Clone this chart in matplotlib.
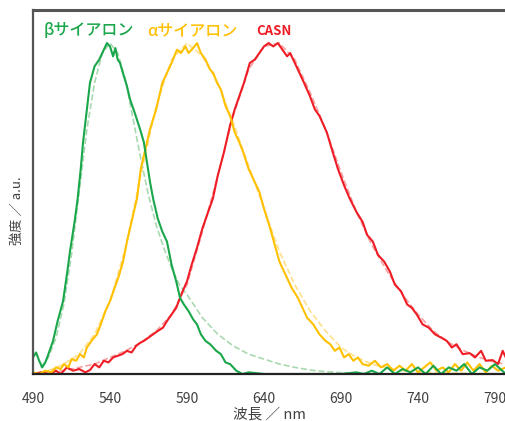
import matplotlib
matplotlib.use("Agg")
import matplotlib.pyplot as plt

plt.rcParams['font.family'] = ['Noto Sans CJK JP', 'DejaVu Sans']

# --- data (wavelength nm, normalised intensity) ---
beta_nm = [490, 492, 494, 496, 498, 500, 503, 506, 509.5, 512, 514, 517, 519, 521, 522.5,
           525, 527, 530, 533, 536, 538, 540, 542, 543.5, 545, 546.5, 549, 551, 553, 556,
           559.5, 562, 564, 566, 568, 571, 574, 577, 580, 583, 585.5, 588, 591, 594, 596.5,
           599, 602, 605, 609, 612, 615, 618, 622, 626, 630, 640, 650, 660, 670, 680, 690,
           700, 705, 710, 715, 720, 725, 730, 735, 740, 745, 750, 755, 760, 765, 770, 775,
           780, 785, 790, 797]
beta_int = [0.05, 0.065, 0.04, 0.02, 0.035, 0.06, 0.10, 0.16, 0.22, 0.30, 0.37, 0.46, 0.53,
            0.62, 0.70, 0.80, 0.88, 0.93, 0.95, 0.98, 1.0, 0.99, 0.96, 0.985, 0.95, 0.94, 0.90,
            0.87, 0.83, 0.79, 0.74, 0.70, 0.64, 0.58, 0.53, 0.47, 0.43, 0.40, 0.33, 0.28, 0.23,
            0.21, 0.19, 0.165, 0.15, 0.12, 0.10, 0.09, 0.07, 0.06, 0.035, 0.03, 0.01, 0.0,
            0.005, 0.0, 0.0, 0.0, 0.0, 0.0, 0.0, 0.005, 0.0, 0.01, 0.0, 0.02, 0.0, 0.015,
            0.005, 0.02, 0.0, 0.025, 0.0, 0.02, 0.01, 0.03, 0.0, 0.02, 0.01, 0.03, 0.0]

beta_fit_nm = [495, 500, 505, 510, 515, 520, 525, 530, 535, 540, 545, 550, 555, 560, 565, 570,
               575, 580, 585, 590, 600, 610, 620, 630, 640, 650, 660, 670, 680, 690, 700, 720, 797]
beta_fit = [0.02, 0.05, 0.11, 0.21, 0.36, 0.55, 0.74, 0.88, 0.97, 1.0, 0.97, 0.89, 0.77, 0.65,
            0.54, 0.45, 0.38, 0.32, 0.27, 0.24, 0.17, 0.12, 0.085, 0.06, 0.045, 0.03, 0.02,
            0.012, 0.007, 0.004, 0.002, 0.0, 0.0]

alpha_nm = [490, 494, 498, 502, 505, 508, 510, 513, 515, 518, 520.5, 523, 525, 528, 531.5, 534,
            537, 540, 543, 546, 548.5, 551, 554, 557.5, 560, 563, 566, 570, 574, 577, 580,
            583.5, 586, 589, 591, 594, 596.5, 599, 602, 605, 607, 609.5, 612, 615, 618, 621,
            624, 626.5, 630, 634, 637, 640, 644, 647, 650, 654, 658, 662, 665, 668, 672, 676,
            680, 683, 686, 689, 692, 695, 698, 701, 704, 708, 712, 716, 720, 724, 728, 732,
            736, 740, 744, 748, 752, 756, 760, 764, 768, 772, 776, 780, 784, 788, 792, 797]
alpha_int = [0.005, 0.0, 0.01, 0.005, 0.02, 0.015, 0.03, 0.02, 0.045, 0.04, 0.06, 0.05, 0.08,
             0.10, 0.12, 0.15, 0.19, 0.22, 0.26, 0.30, 0.34, 0.40, 0.46, 0.53, 0.62, 0.68, 0.74,
             0.80, 0.88, 0.91, 0.94, 0.98, 0.97, 0.99, 0.97, 0.985, 1.0, 0.97, 0.95, 0.92, 0.91,
             0.88, 0.86, 0.81, 0.78, 0.73, 0.70, 0.67, 0.62, 0.58, 0.55, 0.50, 0.44, 0.39, 0.34,
             0.30, 0.26, 0.23, 0.20, 0.17, 0.15, 0.12, 0.10, 0.09, 0.07, 0.08, 0.05, 0.06, 0.04,
             0.05, 0.03, 0.025, 0.04, 0.02, 0.03, 0.01, 0.025, 0.01, 0.03, 0.005, 0.02, 0.035,
             0.01, 0.02, 0.005, 0.03, 0.01, 0.035, 0.01, 0.03, 0.005, 0.025, 0.01, 0.02]

alpha_fit_nm = [500, 510, 520, 530, 540, 550, 560, 570, 580, 590, 600, 610, 620, 630, 640, 650,
                660, 670, 680, 690, 700, 710, 720, 730, 750, 797]
alpha_fit = [0.01, 0.03, 0.06, 0.12, 0.22, 0.38, 0.60, 0.81, 0.95, 1.0, 0.96, 0.88, 0.76, 0.63,
             0.50, 0.37, 0.27, 0.19, 0.13, 0.08, 0.05, 0.03, 0.018, 0.01, 0.004, 0.0]

casn_nm = [490, 495, 500, 505, 508, 512, 516, 520, 524, 527, 530, 533, 536, 539, 542, 545, 548,
           551, 554, 557, 559.5, 562, 565, 568, 571, 574.4, 577, 580, 583, 586.7, 590, 593,
           596.4, 600, 603, 606.8, 610, 614, 617.9, 621, 624, 627, 630.8, 634, 637, 640, 643,
           646, 649, 652, 655, 657, 660, 663, 666, 669.8, 673, 676, 680.8, 684, 688, 692,
           695.7, 700, 704, 707, 710.7, 714, 718, 721.7, 725, 729, 733, 736, 739.2, 743, 747,
           751, 755, 758.7, 762, 765, 769, 773.6, 777, 781, 784, 788.5, 792, 795, 797]
casn_int = [0.0, 0.005, 0.0, 0.01, 0.0, 0.02, 0.01, 0.015, 0.005, 0.012, 0.03, 0.02, 0.04,
            0.035, 0.05, 0.055, 0.06, 0.07, 0.065, 0.085, 0.094, 0.10, 0.11, 0.12, 0.13, 0.14,
            0.16, 0.18, 0.20, 0.245, 0.28, 0.33, 0.38, 0.44, 0.48, 0.53, 0.60, 0.67, 0.75, 0.80,
            0.84, 0.88, 0.94, 0.95, 0.97, 0.99, 1.0, 0.99, 1.0, 0.98, 0.96, 0.97, 0.94, 0.91,
            0.88, 0.84, 0.80, 0.78, 0.73, 0.68, 0.62, 0.57, 0.53, 0.49, 0.46, 0.42, 0.40, 0.36,
            0.34, 0.31, 0.27, 0.25, 0.21, 0.20, 0.18, 0.15, 0.14, 0.12, 0.11, 0.10, 0.08, 0.09,
            0.06, 0.063, 0.05, 0.07, 0.04, 0.042, 0.03, 0.07, 0.05]

casn_fit_nm = [490, 500, 510, 520, 530, 540, 550, 560, 570, 580, 590, 600, 610, 620, 630, 640,
               650, 660, 670, 680, 690, 700, 710, 720, 730, 740, 750, 760, 770, 780, 790, 797]
casn_fit = [0.0, 0.005, 0.01, 0.02, 0.03, 0.05, 0.07, 0.095, 0.13, 0.18, 0.27, 0.43, 0.60,
            0.78, 0.92, 0.99, 1.0, 0.95, 0.85, 0.74, 0.61, 0.49, 0.39, 0.31, 0.24, 0.18, 0.13,
            0.095, 0.07, 0.05, 0.035, 0.03]

xticks = [490, 540, 590, 640, 690, 740, 790]

green = '#1aa64b'
yellow = '#ffc000'
red = '#ee1c25'

fig = plt.figure(figsize=(5.05, 4.21), dpi=100)
ax = fig.add_axes([33 / 505, 47 / 421, 472 / 505, 364 / 421])

# fitted curves (light dashed)
ax.plot(casn_fit_nm, casn_fit, ls='--', color='#f5a3a3', lw=1.2)
ax.plot(alpha_fit_nm, alpha_fit, ls='--', color='#ffe08c', lw=1.2)
ax.plot(beta_fit_nm, beta_fit, ls='--', color='#a9d9b0', lw=1.2)

# measured spectra
ax.plot(casn_nm, casn_int, color=red, lw=1.5)
ax.plot(alpha_nm, alpha_int, color=yellow, lw=1.5)
ax.plot(beta_nm, beta_int, color=green, lw=1.5)

ax.set_xlim(490, 796.5)
ax.set_ylim(0, 1.1)
ax.set_xticks(xticks)
ax.set_yticks([])
ax.tick_params(axis='x', length=0, pad=13, labelsize=10, colors='#404040')

for side in ['top', 'left']:
    ax.spines[side].set_color('#555555')
ax.spines['top'].set_linewidth(2.2)
ax.spines['left'].set_linewidth(1.6)
ax.spines['bottom'].set_color('#222222')
ax.spines['bottom'].set_linewidth(1.6)
ax.spines['right'].set_visible(False)

ax.set_xlabel('波長 ／ nm', fontsize=10.5, color='#404040', labelpad=1)
ax.set_ylabel('強度 ／ a.u.', fontsize=9.5, color='#404040')
ax.yaxis.set_label_coords(-0.019, 0.45)

W, H = 505, 421
fig.text(44 / W, 1 - 31 / H, 'βサイアロン', fontsize=11.5, color=green,
         fontweight='medium', va='center')
fig.text(147 / W, 1 - 31 / H, 'αサイアロン', fontsize=11.5, color=yellow,
         fontweight='medium', va='center')
fig.text(256 / W, 1 - 31 / H, 'CASN', fontsize=9.5, color=red,
         fontweight='bold', va='center')

fig.savefig('out.png', dpi=100)
